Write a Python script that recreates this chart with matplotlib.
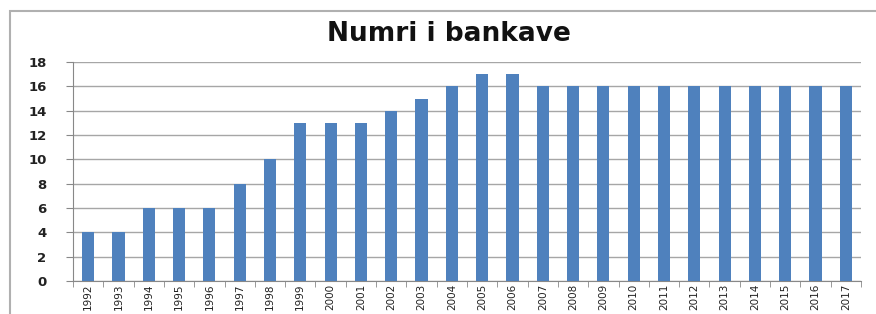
import matplotlib.pyplot as plt
import numpy as np
from matplotlib.patches import Rectangle

# te dhenat
years = [str(y) for y in range(1992, 2018)]
banks = [4, 4, 6, 6, 6, 8, 10, 13, 13, 13, 14, 15, 16, 17, 17,
         16, 16, 16, 16, 16, 16, 16, 16, 16, 16, 16]

fig = plt.figure(figsize=(8.76, 3.14), dpi=100)
ax = fig.add_axes([73/876, 1-281/314, (861-73)/876, (281-62)/314])

x = np.arange(len(years))
ax.bar(x, banks, width=0.4, color="#4f81bd", zorder=3)

ax.set_xlim(-0.5, len(years) - 0.5)
ax.set_ylim(0, 18)
ax.set_yticks(range(0, 19, 2))
ax.set_yticklabels([str(v) for v in range(0, 19, 2)], fontsize=9.5, fontweight="bold", color="#222222")
ax.set_xticks(x)
ax.set_xticklabels(years, rotation=90, fontsize=7.5, color="#222222")
ax.tick_params(axis="x", length=0, pad=2)
ax.set_xticks(np.arange(-0.5, len(years), 1), minor=True)
ax.tick_params(axis="x", which="minor", length=4, color="#888888")
ax.tick_params(axis="y", length=5, color="#888888", pad=14)

ax.grid(axis="y", color="#a6a6a6", linewidth=1, zorder=0)
for s in ["top", "right"]:
    ax.spines[s].set_visible(False)
ax.spines["left"].set_color("#888888")
ax.spines["bottom"].set_color("#888888")

fig.text(449/876, 1-34/314, "Numri i bankave", ha="center", va="center",
         fontsize=19, fontweight="bold", color="#111111")

# kuadri i grafikut
fig.patches.append(Rectangle((10/876, -0.1), 1.0, 1-11/314+0.1, transform=fig.transFigure,
                             fill=False, edgecolor="#b0b0b0", linewidth=1.5))

fig.savefig("out.png", dpi=100)
